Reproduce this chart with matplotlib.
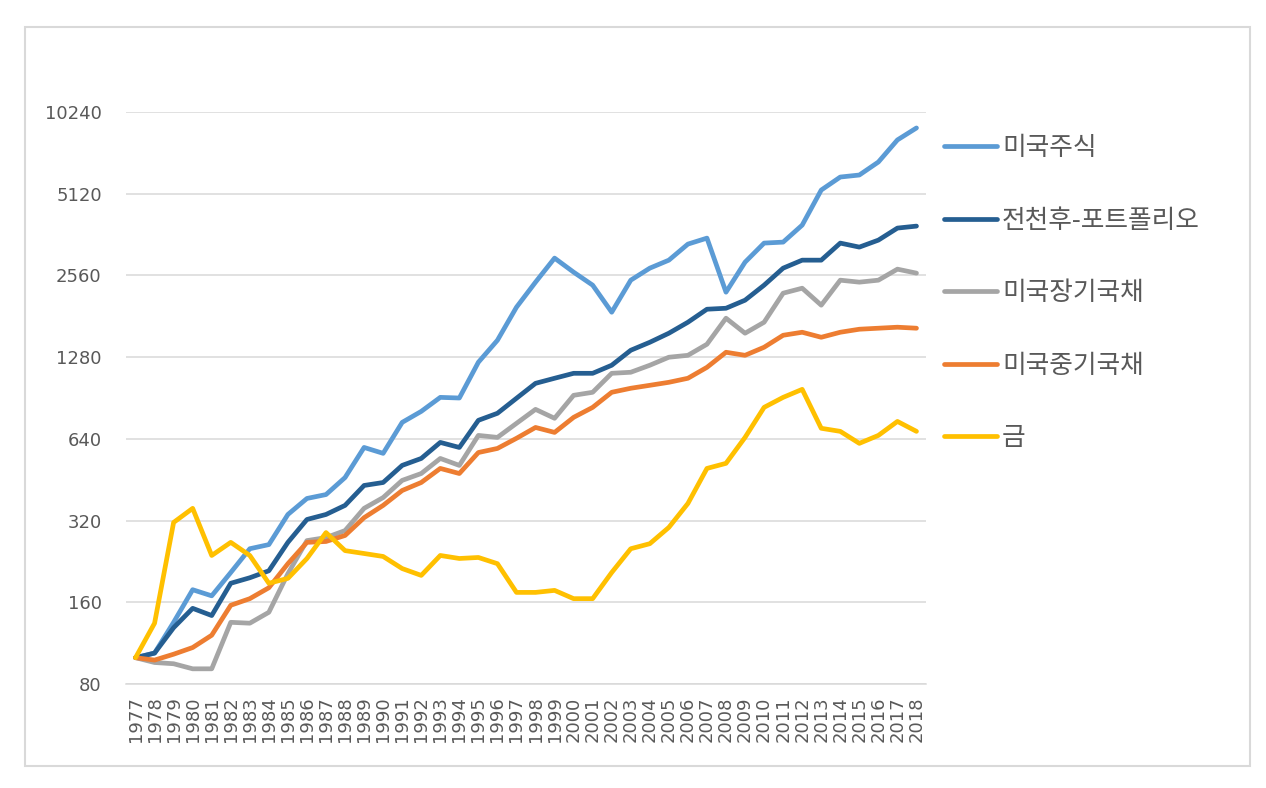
import matplotlib
matplotlib.use("Agg")
import matplotlib.pyplot as plt
from matplotlib.patches import Rectangle
from matplotlib.ticker import FixedLocator, NullLocator

plt.rcParams['font.family'] = ['Noto Sans CJK KR', 'DejaVu Sans']

years = list(range(1977, 2019))

us_stocks = [100, 104, 135, 178, 169, 206, 252, 261, 337, 386, 399, 461, 595, 566, 736, 808,
             910, 905, 1226, 1477, 1955, 2418, 2965, 2632, 2357, 1874, 2459, 2723, 2914, 3339,
             3513, 2221, 2865, 3368, 3396, 3923, 5282, 5898, 6000, 6700, 8080, 8944]
all_weather = [100, 104, 129, 152, 143, 188, 197, 209, 266, 323, 337, 364, 431, 442, 511, 542,
               621, 595, 749, 795, 903, 1025, 1070, 1116, 1116, 1195, 1357, 1452, 1568, 1721,
               1922, 1938, 2075, 2357, 2723, 2914, 2914, 3368, 3255, 3454, 3825, 3890]
long_treasury = [100, 96, 95, 91, 91, 135, 134, 147, 204, 270, 277, 294, 355, 389, 450, 477,
                 542, 511, 659, 648, 730, 822, 762, 926, 950, 1116, 1126, 1195, 1279, 1300,
                 1428, 1781, 1568, 1721, 2202, 2297, 1989, 2459, 2418, 2459, 2700, 2610]
mid_treasury = [100, 98, 103, 109, 121, 156, 165, 181, 222, 266, 268, 282, 328, 364, 413, 442,
                498, 477, 570, 590, 643, 705, 676, 768, 836, 950, 983, 1008, 1034, 1070,
                1174, 1334, 1300, 1392, 1541, 1581, 1515, 1581, 1622, 1636, 1650, 1636]
gold = [100, 134, 315, 355, 238, 266, 238, 188, 196, 232, 289, 248, 242, 236, 213, 201,
        238, 232, 234, 222, 174, 174, 177, 165, 165, 206, 252, 263, 302, 370,
        498, 520, 648, 836, 910, 974, 700, 682, 616, 659, 742, 682]

series_names = ['미국주식', '전천후-포트폴리오', '미국장기국채', '미국중기국채', '금']
series_values = [us_stocks, all_weather, long_treasury, mid_treasury, gold]
series_colors = ['#5B9BD5', '#255E91', '#A5A5A5', '#ED7D31', '#FFC000']

y_ticks = [80, 160, 320, 640, 1280, 2560, 5120, 10240]

W, H = 1266, 788
fig = plt.figure(figsize=(W / 100, H / 100), dpi=100)

# chart border
fig.patches.append(Rectangle((25 / W, 1 - 766 / H), (1250 - 25) / W, (766 - 27) / H,
                             transform=fig.transFigure, fill=False,
                             edgecolor='#D9D9D9', linewidth=1.5))

ax = fig.add_axes([126 / W, 1 - 684 / H, (926 - 126) / W, (684 - 112) / H])

for name, vals, col in zip(series_names, series_values, series_colors):
    ax.plot(years, vals, color=col, linewidth=3.4, label=name,
            solid_capstyle='round', solid_joinstyle='round')

ax.set_yscale('log', base=2)
ax.set_ylim(80, 10240)
ax.yaxis.set_major_locator(FixedLocator(y_ticks))
ax.yaxis.set_minor_locator(NullLocator())
ax.set_yticklabels([str(v) for v in y_ticks])
ax.set_xlim(1976.5, 2018.5)
ax.set_xticks(years)
ax.set_xticklabels([str(y) for y in years], rotation=90)

ax.grid(axis='y', color='#D9D9D9', linewidth=1.1)
ax.set_axisbelow(True)
for s in ['top', 'right', 'left']:
    ax.spines[s].set_visible(False)
ax.spines['bottom'].set_color('#D9D9D9')
ax.spines['bottom'].set_linewidth(1.1)

ax.tick_params(axis='y', length=0, pad=17.5, labelsize=13, labelcolor='#595959')
ax.tick_params(axis='x', length=0, pad=9, labelsize=13, labelcolor='#595959')
for lab in ax.get_xticklabels() + ax.get_yticklabels():
    lab.set_family(['DejaVu Sans'])

leg = fig.legend(loc='upper left', bbox_to_anchor=(944 / W, 1 - 135 / H),
                 frameon=False, fontsize=18.5, handlelength=2.06, handletextpad=0.2,
                 labelspacing=1.81, borderaxespad=0, borderpad=0)
for t in leg.get_texts():
    t.set_color('#595959')

fig.savefig('out.png', dpi=100)
